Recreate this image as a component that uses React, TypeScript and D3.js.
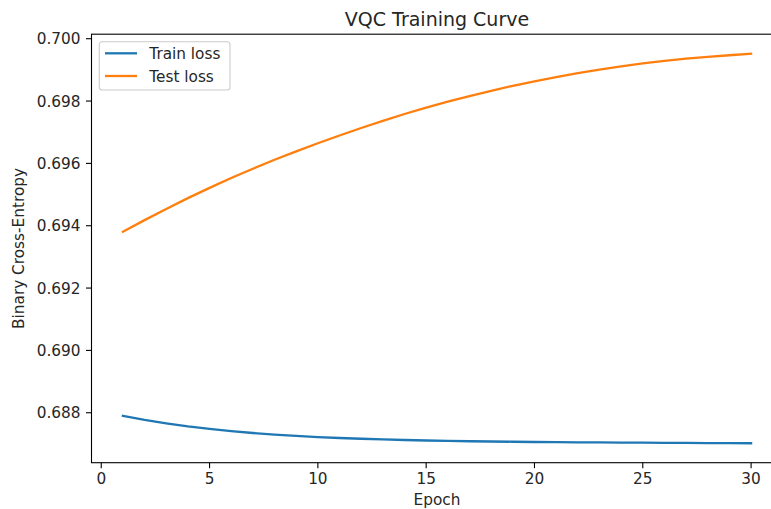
import React from "react";
import * as d3 from "d3";

// epochs 1..30, values
const epochs = d3.range(1, 31);

const trainLoss = [
  0.68790, 0.68777, 0.68766, 0.68756, 0.68748, 0.68741, 0.68735, 0.68730, 0.68726, 0.68722,
  0.687190, 0.687165, 0.687143, 0.687125, 0.687110, 0.687097, 0.687086, 0.687077, 0.687069, 0.687062,
  0.687056, 0.687051, 0.687046, 0.687042, 0.687038, 0.687034, 0.687031, 0.687028, 0.687025, 0.687022,
];

const testLoss = [
  0.69381, 0.69418, 0.69454, 0.694885, 0.695215, 0.69553, 0.69583, 0.696115, 0.696385, 0.696645,
  0.696895, 0.697135, 0.697365, 0.697585, 0.69779, 0.69798, 0.69816, 0.69833, 0.69849, 0.698635,
  0.69877, 0.698895, 0.69901, 0.699115, 0.69921, 0.69929, 0.69936, 0.69942, 0.69947, 0.69952,
];

const xTicks = [0, 5, 10, 15, 20, 25, 30];
const yTicks = [0.688, 0.690, 0.692, 0.694, 0.696, 0.698, 0.700];

const seriesNames = ["Train loss", "Test loss"];
const seriesColors = ["#1f77b4", "#ff7f0e"];

const W = 771, H = 509;
const left = 91.5, right = 782.5, top = 34.2, bottom = 462.7;
const FONT = "'DejaVu Sans', sans-serif";

export default function App() {
  // matplotlib-like 5% margins
  const xExt = d3.extent(epochs) as [number, number];
  const xPad = (xExt[1] - xExt[0]) * 0.05;
  const x = d3.scaleLinear().domain([xExt[0] - xPad, xExt[1] + xPad]).range([left, right]);

  const allY = trainLoss.concat(testLoss);
  const yMin = d3.min(allY) as number, yMax = d3.max(allY) as number;
  const yPad = (yMax - yMin) * 0.05;
  const y = d3.scaleLinear().domain([yMin - yPad, yMax + yPad]).range([bottom, top]);

  const line = d3.line<number>()
    .x((d, i) => x(epochs[i]))
    .y(d => y(d));

  const fmt = d3.format(".3f");
  const series = [trainLoss, testLoss];

  return (
    <svg width={W} height={H} style={{ position: "absolute", left: 0, top: 0, background: "#fff" }}
      fontFamily={FONT}>
      <defs>
        <clipPath id="plotclip">
          <rect x={left} y={top} width={right - left} height={bottom - top} />
        </clipPath>
      </defs>

      {series.map((s, i) => (
        <path key={i} d={line(s) || ""} fill="none" stroke={seriesColors[i]}
          strokeWidth={2.3} strokeLinecap="square" clipPath="url(#plotclip)" />
      ))}

      {/* spines */}
      <rect x={left} y={top} width={right - left} height={bottom - top}
        fill="none" stroke="#000" strokeWidth={1.1} />

      {/* x axis */}
      {xTicks.map(t => (
        <g key={t} transform={`translate(${x(t)},${bottom})`}>
          <line y2={5.5} stroke="#000" strokeWidth={1.1} />
          <text y={21.5} textAnchor="middle" fontSize={15.3} fill="#262626">{t}</text>
        </g>
      ))}
      <text x={(left + right) / 2} y={505} textAnchor="middle" fontSize={15.3} fill="#262626">Epoch</text>

      {/* y axis */}
      {yTicks.map(t => (
        <g key={t} transform={`translate(${left},${y(t)})`}>
          <line x2={-5.5} stroke="#000" strokeWidth={1.1} />
          <text x={-11} dy="0.36em" textAnchor="end" fontSize={15.3} fill="#262626">{fmt(t)}</text>
        </g>
      ))}
      <text transform={`translate(24,${(top + bottom) / 2}) rotate(-90)`} textAnchor="middle"
        fontSize={15.3} fill="#262626">Binary Cross-Entropy</text>

      {/* title */}
      <text x={(left + right) / 2} y={26} textAnchor="middle" fontSize={19} fill="#262626">
        VQC Training Curve
      </text>

      {/* legend */}
      <rect x={99.3} y={41.7} width={130.7} height={48.3} rx={3} fill="#fff" fillOpacity={0.8}
        stroke="#cccccc" strokeWidth={1.1} />
      {seriesNames.map((n, i) => (
        <g key={n} transform={`translate(0,${53.3 + i * 22.7})`}>
          <line x1={105} x2={137} stroke={seriesColors[i]} strokeWidth={2.3} />
          <text x={149.3} dy="0.36em" fontSize={15.3} fill="#262626">{n}</text>
        </g>
      ))}
    </svg>
  );
}
